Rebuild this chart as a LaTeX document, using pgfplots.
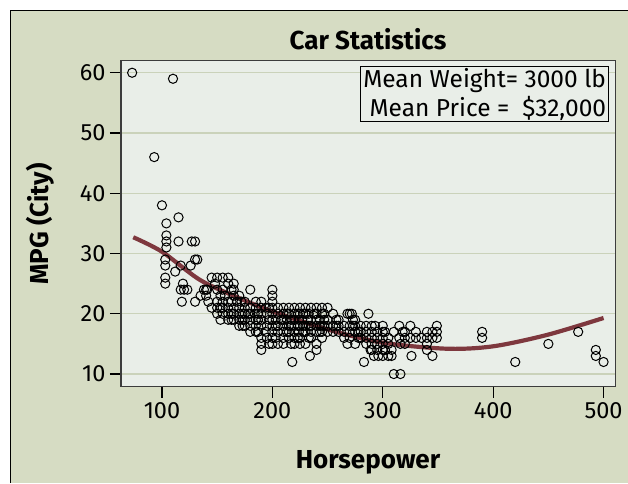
\documentclass[border=0pt]{standalone}
\usepackage{pgfplots}
\pgfplotsset{compat=1.18}
\usepackage{fontspec}
\setmainfont{Fira Sans}
\definecolor{outerbg}{RGB}{214,220,195}
\definecolor{plotbg}{RGB}{233,238,232}
\definecolor{gridc}{RGB}{202,210,186}
\definecolor{fitc}{RGB}{126,56,62}
\definecolor{framec}{RGB}{60,60,60}
\begin{document}
\begin{tikzpicture}[x=1pt,y=1pt]
\useasboundingbox (0,0) rectangle (628,483);
\fill[white] (0,0) rectangle (628,483);
\fill[outerbg] (10.5,0) rectangle (628,472.5);
\draw[black,line width=1.2pt] (10.5,0) -- (10.5,472.5) -- (628,472.5);
\begin{axis}[
  at={(121pt,96.5pt)}, anchor=south west,
  scale only axis, width=494.7pt, height=325.8pt,
  xmin=62.9, xmax=511, ymin=7.93, ymax=62.0,
  axis background/.style={fill=plotbg},
  axis line style={framec,line width=1.2pt},
  xtick={100,200,300,400,500}, ytick={10,20,30,40,50,60},
  tick align=outside, tick pos=left,
  major tick length=11pt,
  every tick/.style={black,line width=1.1pt},
  ymajorgrids, grid style={gridc,line width=1.2pt},
  ticklabel style={font=\fontsize{23.5}{25}\selectfont},
  /pgf/number format/assume math mode=true,
  xticklabel style={yshift=-2pt},
  yticklabel style={xshift=-1pt},
  clip=true,
]
\addplot[only marks, mark=o, mark size=4.6pt, mark options={black,line width=1pt}] coordinates {
(73,60)(93,46)(110,59)
(100,38)(103,29)(103,28)(103,26)(103,25)(104,35)(104,33)(104,32)(104,31)
(112,27)(115,36)(115,32)(117,28)(117,24)(118,22)(119,25)(120,24)
(126,28)(127,32)(130,32)(130,29)(132,29)(130,22)(123,24)
(135,23)(138,24)(140,24)(140,23)(141,24)(142,22)(145,26)(145,21)(148,25)
(150,26)(150,22)(150,24)(150,21)(150,20)
(153,23)(153,21)(153,19)
(155,26)(155,24)(155,22)(155,21)(155,20)(157,23)
(160,26)(160,25)(160,22)(160,21)(160,20)(160,19)
(163,24)(163,22)(163,20)(163,19)
(165,25)(165,24)(165,23)(165,21)(165,20)(165,19)(168,22)
(170,23)(170,21)(170,20)(170,19)(170,18)(172,22)
(173,20)(173,19)(173,18)
(175,22)(175,21)(175,20)(175,19)(175,18)(178,20)
(180,24)(180,21)(180,20)(180,19)(180,18)(180,17)(184,20)
(185,22)(185,21)(185,19)(185,18)(185,17)
(187,20)(187,19)(187,17)
(190,22)(190,21)(190,20)(190,19)(190,18)(190,16)(190,15)(190,14)
(194,21)(194,17)(195,20)(195,18)(195,16)(197,21)(197,19)(197,15)
(200,24)(200,23)(200,22)(200,21)(200,20)(200,19)(200,18)(200,17)(200,16)(200,15)
(203,19)(203,18)(203,16)
(205,21)(205,20)(205,18)(205,17)(205,15)(208,19)
(210,21)(210,20)(210,19)(210,18)(210,17)(210,16)(210,15)
(213,20)(213,19)(213,17)
(215,21)(215,20)(215,18)(215,17)(215,16)(218,12)
(217,19)(217,18)(217,15)
(220,21)(220,20)(220,19)(220,18)(220,17)(220,16)(220,15)(224,19)(224,17)
(223,20)(223,18)(223,16)
(225,21)(225,20)(225,18)(225,16)(225,15)(227,19)
(228,20)(228,18)(228,17)
(230,21)(230,20)(230,18)(230,17)(230,15)(232,19)(234,13)
(233,20)(233,18)(233,16)
(235,21)(235,19)(235,18)(235,17)(235,16)(238,20)
(240,21)(240,20)(240,19)(240,18)(240,17)(240,15)(240,14)
(243,19)(243,18)(243,17)
(245,21)(245,20)(245,18)(245,17)(245,16)
(247,20)(247,19)(247,18)
(250,21)(250,19)(250,18)(250,17)(255,20)(255,18)(255,17)
(258,19)(258,18)
(260,19)(260,18)(260,17)(265,18)(265,17)(265,16)
(268,20)(268,15)(270,20)(270,18)(270,17)(270,16)(272,20)
(273,19)(273,18)
(275,19)(275,18)(275,17)(275,15)(280,18)(280,17)(280,16)(283,12)
(278,17)(278,16)
(285,18)(285,17)(285,16)(285,15)(287,20)(289,14)
(290,18)(290,17)(290,16)(290,15)(290,14)(292,13)(293,18)
(295,17)(295,16)(295,15)(295,14)(296,13)
(300,18)(300,17)(300,16)(300,15)(300,14)(300,13)(302,17)(302,14)
(305,16)(305,15)(305,13)(308,14)(308,13)(310,10)(310,17)
(315,18)(315,16)(316,10)(316,15)(318,17)
(320,17)(320,16)(320,15)(325,18)(325,16)(326,13)
(330,17)(330,16)(335,16)(340,17)(340,16)(340,15)(340,14)
(345,17)(345,16)(345,13)(349,18)(349,17)(349,16)
(390,17)(390,16)(420,12)(450,15)(477,17)(493,14)(493,13)(500,12)
};
\addplot[fitc, line width=4.2pt, smooth, tension=0.5] coordinates {
(74,32.7)(100,30.3)(134.6,25.6)(170,22.6)(200,20.4)(250,17.4)(300,15.2)(358,14.2)(400,14.6)(449,16.5)(500,19.3)
};
\node[draw=black, line width=0.9pt, fill=plotbg, anchor=north east, align=right,
  inner xsep=2.5pt, inner ysep=1.5pt, font=\fontsize{24.5}{29}\selectfont]
  at (rel axis cs:0.9865,0.9837) {Mean Weight= 3000 lb\\Mean Price =\ \ \$32,000};
\end{axis}
\node[font=\bfseries\fontsize{26}{28}\selectfont] at (368,444) {Car Statistics};
\node[font=\bfseries\fontsize{26}{28}\selectfont] at (368,21) {Horsepower};
\node[font=\bfseries\fontsize{26}{28}\selectfont, rotate=90] at (40,259) {MPG (City)};
\end{tikzpicture}
\end{document}
